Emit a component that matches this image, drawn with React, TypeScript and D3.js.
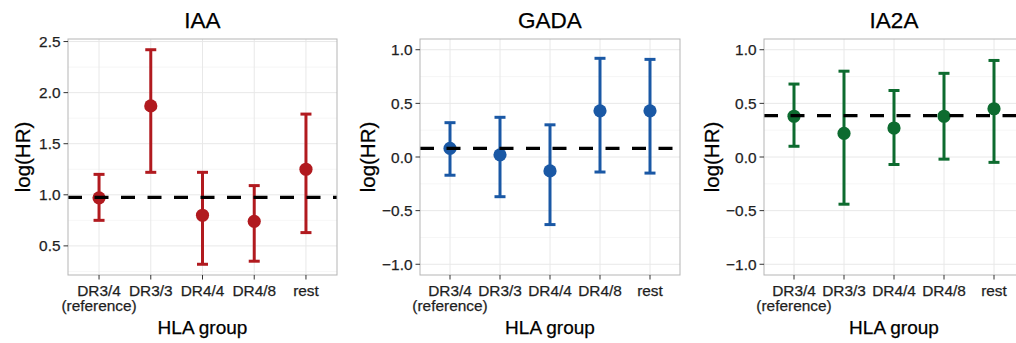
import React from "react";
import * as d3 from "d3";

const categories = ["DR3/4", "DR3/3", "DR4/4", "DR4/8", "rest"];
const titles = ["IAA", "GADA", "IA2A"];

const iaaEst = [0.97, 1.87, 0.8, 0.74, 1.25];
const iaaLo = [0.75, 1.22, 0.32, 0.35, 0.63];
const iaaHi = [1.2, 2.42, 1.22, 1.09, 1.79];
const iaaRef = 0.975;

const gadaEst = [0.08, 0.02, -0.13, 0.43, 0.43];
const gadaLo = [-0.17, -0.37, -0.63, -0.14, -0.15];
const gadaHi = [0.32, 0.37, 0.3, 0.92, 0.91];
const gadaRef = 0.08;

const ia2aEst = [0.38, 0.22, 0.27, 0.38, 0.45];
const ia2aLo = [0.1, -0.44, -0.07, -0.02, -0.05];
const ia2aHi = [0.68, 0.8, 0.62, 0.78, 0.9];
const ia2aRef = 0.385;

const iaaTicks = [0.5, 1.0, 1.5, 2.0, 2.5];
const symTicks = [-1.0, -0.5, 0.0, 0.5, 1.0];

const colors = ["#B11A1F", "#1A58A5", "#0D6B2F"];

const TOP = 39;
const BOTTOM = 275;
const FONT = "Liberation Sans, Arial, Helvetica, sans-serif";

type PanelSpec = {
  title: string;
  est: number[];
  lo: number[];
  hi: number[];
  ref: number;
  ticks: number[];
  domain: [number, number];
  left: number;
  width: number;
  color: string;
  ylabX: number;
};

function expand(a: number, b: number, f = 0.05): [number, number] {
  const r = b - a;
  return [a - r * f, b + r * f];
}

const panels: PanelSpec[] = [
  {
    title: titles[0], est: iaaEst, lo: iaaLo, hi: iaaHi, ref: iaaRef, ticks: iaaTicks,
    domain: expand(d3.min(iaaLo)!, d3.max(iaaHi)!), left: 68, width: 269, color: colors[0], ylabX: 23,
  },
  {
    title: titles[1], est: gadaEst, lo: gadaLo, hi: gadaHi, ref: gadaRef, ticks: symTicks,
    domain: expand(-1, 1), left: 420, width: 260, color: colors[1], ylabX: 368,
  },
  {
    title: titles[2], est: ia2aEst, lo: ia2aLo, hi: ia2aHi, ref: ia2aRef, ticks: symTicks,
    domain: expand(-1, 1), left: 764, width: 260, color: colors[2], ylabX: 712,
  },
];

const fmt = d3.format(".1f");

function Panel({ p }: { p: PanelSpec }) {
  const x = d3.scalePoint<string>().domain(categories).range([p.left, p.left + p.width]).padding(0.6);
  const y = d3.scaleLinear().domain(p.domain).range([BOTTOM, TOP]);
  const step = p.ticks[1] - p.ticks[0];
  const minor: number[] = [];
  for (let i = -1; i < p.ticks.length; i++) {
    const v = p.ticks[0] + (i + 0.5) * step;
    if (v > p.domain[0] && v < p.domain[1]) minor.push(v);
  }
  const right = p.left + p.width;
  const cx = p.left + p.width / 2;
  const clipId = `clip-${p.title}`;
  const tickText = { fontSize: 15.4, fill: "#1e1e1e", fontFamily: FONT, stroke: "#1e1e1e", strokeWidth: 0.25 };
  const titleText = { fill: "#000", fontFamily: FONT, stroke: "#000", strokeWidth: 0.25 };
  return (
    <g>
      <defs>
        <clipPath id={clipId}>
          <rect x={p.left} y={TOP} width={p.width} height={BOTTOM - TOP} />
        </clipPath>
      </defs>
      <rect x={p.left} y={TOP} width={p.width} height={BOTTOM - TOP} fill="#fff" />
      {minor.map((v) => (
        <line key={"mn" + v} x1={p.left} x2={right} y1={y(v)} y2={y(v)} stroke="#F4F4F4" strokeWidth={0.8} />
      ))}
      {p.ticks.map((v) => (
        <line key={"mj" + v} x1={p.left} x2={right} y1={y(v)} y2={y(v)} stroke="#E8E8E8" strokeWidth={1} />
      ))}
      {categories.map((c) => (
        <line key={"vx" + c} x1={x(c)} x2={x(c)} y1={TOP} y2={BOTTOM} stroke="#E8E8E8" strokeWidth={1} />
      ))}
      <g clipPath={`url(#${clipId})`}>
        {categories.map((c, i) => {
          const xc = x(c)!;
          return (
            <g key={"eb" + c} stroke={p.color} strokeWidth={3}>
              <line x1={xc} x2={xc} y1={y(p.lo[i])} y2={y(p.hi[i])} />
              <line x1={xc - 5.5} x2={xc + 5.5} y1={y(p.lo[i])} y2={y(p.lo[i])} />
              <line x1={xc - 5.5} x2={xc + 5.5} y1={y(p.hi[i])} y2={y(p.hi[i])} />
            </g>
          );
        })}
        {categories.map((c, i) => (
          <circle key={"pt" + c} cx={x(c)} cy={y(p.est[i])} r={6.6} fill={p.color} />
        ))}
        <line x1={p.left} x2={right} y1={y(p.ref)} y2={y(p.ref)} stroke="#000" strokeWidth={3.2} strokeDasharray="14 12.5" />
      </g>
      <rect x={p.left} y={TOP} width={p.width} height={BOTTOM - TOP} fill="none" stroke="#B5B5B5" strokeWidth={1} />
      {p.ticks.map((v) => (
        <g key={"yt" + v}>
          <line x1={p.left - 4.5} x2={p.left} y1={y(v)} y2={y(v)} stroke="#333" strokeWidth={1} />
          <text x={p.left - 7.5} y={y(v)} dy="0.36em" textAnchor="end" {...tickText}>
            {fmt(v)}
          </text>
        </g>
      ))}
      {categories.map((c, i) => (
        <g key={"xt" + c}>
          <line x1={x(c)} x2={x(c)} y1={BOTTOM} y2={BOTTOM + 4.5} stroke="#333" strokeWidth={1} />
          <text x={x(c)} y={296} textAnchor="middle" {...tickText}>
            {c}
          </text>
          {i === 0 && (
            <text x={x(c)} y={311} textAnchor="middle" {...tickText}>
              (reference)
            </text>
          )}
        </g>
      ))}
      <text x={cx} y={28} textAnchor="middle" fontSize={22.5} {...titleText}>
        {p.title}
      </text>
      <text x={cx} y={333.5} textAnchor="middle" fontSize={19} {...titleText}>
        HLA group
      </text>
      <text
        transform={`translate(${p.ylabX},${(TOP + BOTTOM) / 2}) rotate(-90)`}
        textAnchor="middle"
        dy="0.35em"
        fontSize={20.5}
        {...titleText}
      >
        log(HR)
      </text>
    </g>
  );
}

export default function App() {
  return (
    <svg
      width={1016}
      height={343}
      style={{ position: "absolute", left: 0, top: 0, background: "#fff" }}
    >
      <rect x={0} y={0} width={1016} height={343} fill="#fff" />
      {panels.map((p) => (
        <Panel key={p.title} p={p} />
      ))}
    </svg>
  );
}
